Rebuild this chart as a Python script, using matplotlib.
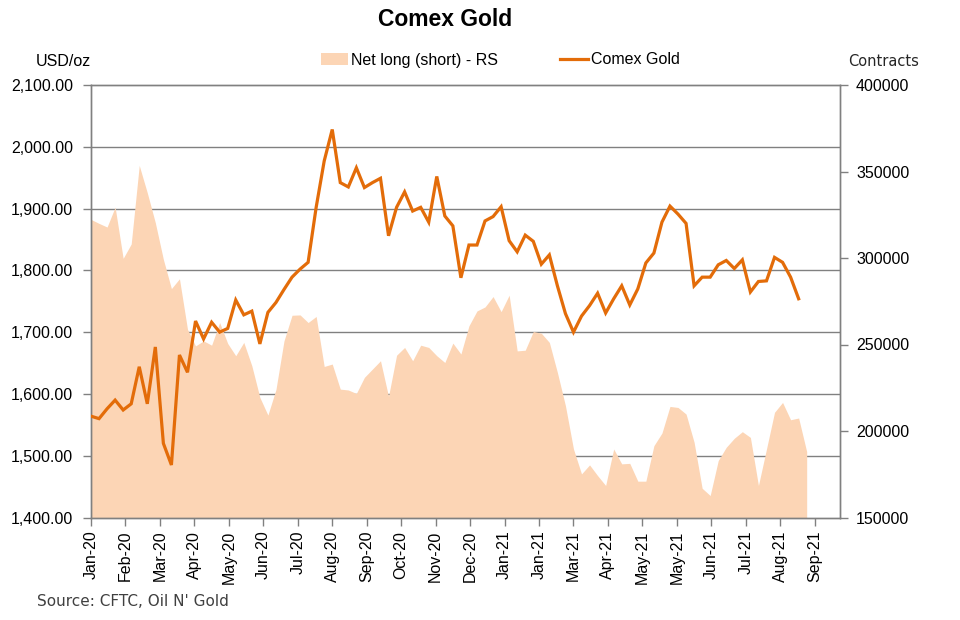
import numpy as np
import matplotlib
matplotlib.use('Agg')
import matplotlib.pyplot as plt
import matplotlib.dates as mdates
from matplotlib.patches import Patch
from matplotlib.lines import Line2D
from matplotlib.ticker import FuncFormatter, FixedLocator

# Weekly CFTC report dates (Tuesdays)
dates = np.arange(np.datetime64('2020-01-07'), np.datetime64('2021-09-22'), np.timedelta64(7, 'D'))

# Comex gold price, USD/oz (last week has no price)
gold = [1564, 1560, 1576, 1590, 1574, 1584, 1644, 1584, 1676, 1520,
        1485, 1663, 1635, 1718, 1689, 1716, 1700, 1706, 1752, 1728,
        1734, 1681, 1732, 1748, 1769, 1789, 1802, 1813, 1902, 1977,
        2028, 1942, 1935, 1966, 1934, 1942, 1949, 1856, 1902, 1927,
        1896, 1902, 1878, 1952, 1888, 1872, 1788, 1841, 1841, 1880,
        1887, 1903, 1848, 1830, 1857, 1847, 1810, 1825, 1775, 1730,
        1700, 1726, 1743, 1763, 1731, 1754, 1775, 1744, 1770, 1812,
        1828, 1878, 1904, 1891, 1876, 1775, 1789, 1789, 1809, 1816,
        1803, 1817, 1765, 1782, 1783, 1821, 1813, 1789, 1754, np.nan]

# Net long (short) position, contracts
net_long = [322300, 320000, 317900, 329400, 299800, 308100, 353500, 337700, 320400, 299200,
            282300, 288000, 258800, 249200, 252100, 249600, 262700, 250600, 243500, 251200,
            237700, 219400, 209200, 224000, 252100, 266900, 267100, 262700, 266200, 237300,
            238700, 224200, 223700, 221700, 231000, 235800, 240600, 220000, 243800, 248300,
            240600, 249600, 248300, 243500, 239600, 250800, 244500, 260800, 269400, 271700,
            277700, 269000, 278500, 246300, 246700, 257500, 256500, 251200, 233800, 214600,
            189600, 175200, 180400, 174200, 168500, 189600, 181000, 181300, 171000, 171000,
            191500, 198800, 214200, 213600, 209800, 193500, 166900, 162700, 182900, 190600,
            195800, 199600, 196300, 168500, 189600, 210800, 216500, 206500, 207500, 188100]

area_color = '#FCD5B5'
line_color = '#E36C09'
grid_color = '#808080'

plt.rcParams['font.family'] = ['Liberation Sans', 'DejaVu Sans']

fig = plt.figure(figsize=(9.6, 6.2), dpi=100)
ax = fig.add_axes([91 / 960, 1 - 517.5 / 620, (840 - 91) / 960, (517.5 - 85) / 620])
ax2 = ax.twinx()

# Price line on top, area underneath
ax.set_zorder(ax2.get_zorder() + 1)
ax.patch.set_visible(False)

gold_lo, gold_hi = 1400, 2100
con_lo, con_hi = 150000, 400000

ax2.fill_between(dates, net_long, con_lo, color=area_color, linewidth=0, zorder=1)
ax.plot(dates, gold, color=line_color, linewidth=2.3, solid_joinstyle='miter', zorder=3)

x0 = np.datetime64('2020-01-07')
ax.set_xlim(x0, x0 + np.timedelta64(652, 'D'))
ax.set_ylim(gold_lo, gold_hi)
ax2.set_ylim(con_lo, con_hi)

# Gridlines follow the left scale, drawn under the area
ax.set_yticks(np.arange(gold_lo, gold_hi + 1, 100))
grid_pos = con_lo + (np.arange(gold_lo, gold_hi + 1, 100) - gold_lo) / (gold_hi - gold_lo) * (con_hi - con_lo)
ax2.yaxis.set_minor_locator(FixedLocator(grid_pos))
ax2.tick_params(axis='y', which='minor', length=0)
ax2.set_axisbelow(True)
ax2.grid(axis='y', which='minor', color=grid_color, linewidth=1.0)
ax2.set_yticks(np.arange(con_lo, con_hi + 1, 50000))

ax.yaxis.set_major_formatter(FuncFormatter(lambda v, p: f'{v:,.2f}'))
ax2.yaxis.set_major_formatter(FuncFormatter(lambda v, p: f'{int(v)}'))

ticks = [x0 + np.timedelta64(30 * i, 'D') for i in range(22)]
ax.set_xticks(ticks)
ax.xaxis.set_major_formatter(mdates.DateFormatter('%b-%y'))
plt.setp(ax.get_xticklabels(), rotation=90)

for a in (ax, ax2):
    for s in a.spines.values():
        s.set_color(grid_color)
        s.set_linewidth(1.0)
ax.tick_params(axis='y', which='major', direction='out', length=5.5, width=1,
               color=grid_color, labelsize=11.5, pad=7.5)
ax.tick_params(axis='x', which='major', direction='out', length=5.5, width=1,
               color=grid_color, labelsize=11.5, pad=4)
ax2.tick_params(axis='y', which='major', direction='out', length=5.5, width=1,
                color=grid_color, labelsize=11.5, pad=6)

fig.text(445 / 960, 1 - 20 / 620, 'Comex Gold', ha='center', va='center',
         fontsize=16.5, fontweight='bold')
fig.text(63 / 960, 1 - 62 / 620, 'USD/oz', ha='center', va='center', fontsize=11.5)
fig.text(884 / 960, 1 - 62 / 620, 'Contracts', ha='center', va='center',
         fontsize=10.5, family='DejaVu Sans', color='#262626')
fig.text(37 / 960, 1 - 601 / 620, "Source: CFTC, Oil N' Gold", ha='left', va='center',
         fontsize=11, family='DejaVu Sans', color='#404040')

handles = [Patch(facecolor=area_color, edgecolor='none'),
           Line2D([0], [0], color=line_color, linewidth=2.3)]
fig.legend(handles, ['Net long (short) - RS', 'Comex Gold'], loc='center',
           bbox_to_anchor=(0.521, 1 - 60 / 620), ncol=2, frameon=False,
           fontsize=11.5, handlelength=1.7, handletextpad=0.2, columnspacing=3.9)

plt.savefig('out.png', dpi=100)
